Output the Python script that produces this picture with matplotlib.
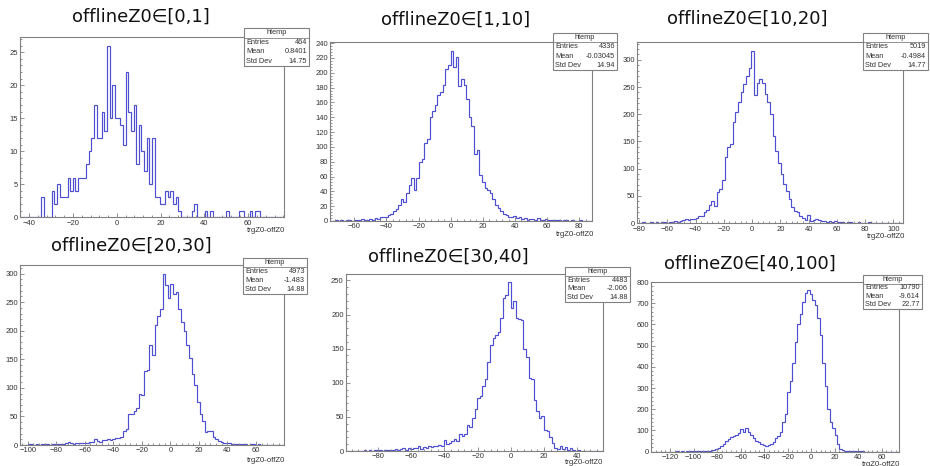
import numpy as np
import matplotlib
matplotlib.use("Agg")
import matplotlib.pyplot as plt
from matplotlib.patches import Rectangle
from matplotlib.lines import Line2D
from matplotlib.ticker import MultipleLocator, AutoMinorLocator

W, H = 930, 466

# ---------------- data ----------------
titles = ["offlineZ0∈[0,1]", "offlineZ0∈[1,10]", "offlineZ0∈[10,20]",
          "offlineZ0∈[20,30]", "offlineZ0∈[30,40]", "offlineZ0∈[40,100]"]

# histogram ranges (100 bins each, ROOT htemp)
hist_ranges = [(-44.2, 76.3), (-75.1, 87.9), (-81.4, 106.8),
               (-105.4, 79.6), (-99.5, 55.8), (-136.2, 74.7)]

counts_0_1 = [0, 0, 0, 0, 0, 0, 0, 0, 3, 0,
              0, 0, 4, 2, 5, 3, 3, 3, 6, 4,
              6, 4, 6, 6, 6, 8, 10, 12, 17, 12,
              12, 16, 13, 26, 15, 20, 15, 15, 14, 11,
              22, 16, 13, 17, 8, 14, 10, 7, 12, 5,
              12, 3, 3, 2, 2, 4, 3, 4, 2, 3,
              1, 0, 0, 0, 0, 1, 2, 0, 0, 0,
              1, 0, 1, 0, 0, 0, 0, 0, 1, 0,
              0, 0, 0, 1, 1, 0, 0, 1, 0, 1,
              1, 0, 0, 0, 0, 0, 0, 0, 0, 0]

counts_1_10 = [0, 0, 1, 0, 1, 0, 1, 2, 0, 1,
               2, 1, 3, 1, 2, 3, 2, 4, 3, 6,
               5, 6, 8, 10, 13, 16, 22, 30, 26, 38,
               48, 58, 42, 58, 80, 84, 105, 110, 140, 148,
               156, 170, 174, 183, 205, 211, 230, 208, 221, 182,
               192, 183, 165, 140, 128, 91, 96, 62, 53, 44,
               42, 38, 30, 22, 17, 13, 9, 8, 6, 5,
               7, 4, 6, 3, 4, 2, 3, 3, 2, 4,
               2, 1, 3, 1, 2, 1, 2, 1, 0, 2,
               1, 0, 1, 0, 0, 1, 0, 0, 0, 0]

counts_10_20 = [0, 0, 1, 0, 0, 1, 0, 1, 0, 2,
                1, 0, 2, 1, 3, 2, 4, 5, 7, 6,
                8, 7, 10, 12, 12, 21, 24, 33, 40, 32,
                57, 62, 79, 122, 140, 145, 186, 204, 222, 241,
                256, 271, 285, 317, 236, 258, 264, 257, 238, 222,
                200, 160, 132, 110, 90, 72, 58, 45, 30, 22,
                20, 13, 10, 5, 14, 4, 6, 8, 5, 4,
                3, 2, 4, 2, 3, 1, 2, 1, 0, 1,
                1, 0, 0, 1, 0, 0, 0, 1, 0, 0,
                0, 0, 0, 0, 0, 0, 0, 0, 0, 0]

counts_20_30 = [0, 0, 0, 1, 1, 0, 2, 0, 1, 1,
                2, 0, 1, 2, 1, 2, 2, 4, 5, 3,
                2, 4, 3, 4, 3, 4, 5, 6, 10, 7,
                6, 9, 8, 10, 9, 10, 13, 12, 14, 25,
                28, 55, 54, 60, 65, 90, 88, 130, 132, 175,
                158, 210, 225, 238, 300, 280, 257, 282, 265, 268,
                238, 215, 200, 175, 152, 125, 105, 75, 55, 42,
                22, 25, 24, 14, 10, 7, 6, 4, 3, 3,
                2, 1, 2, 1, 1, 2, 0, 1, 1, 0,
                1, 0, 0, 0, 0, 0, 0, 0, 0, 0]

counts_30_40 = [0, 0, 0, 0, 0, 0, 0, 1, 0, 1,
                0, 1, 1, 2, 0, 1, 2, 1, 2, 3,
                1, 3, 4, 2, 5, 3, 4, 5, 7, 3,
                6, 5, 7, 6, 8, 7, 9, 8, 16, 10,
                12, 14, 18, 15, 25, 22, 25, 38, 35, 48,
                62, 78, 80, 95, 105, 130, 155, 165, 170, 175,
                195, 224, 228, 247, 210, 220, 195, 193, 192, 150,
                138, 107, 105, 75, 58, 48, 52, 31, 30, 20,
                12, 5, 3, 7, 3, 6, 2, 4, 1, 0,
                1, 0, 0, 0, 0, 0, 0, 0, 0, 0]

counts_40_100 = [0, 0, 0, 0, 0, 0, 0, 0, 0, 0,
                 1, 0, 1, 0, 1, 1, 2, 1, 3, 2,
                 3, 5, 4, 5, 8, 10, 12, 18, 25, 35,
                 50, 60, 70, 75, 80, 90, 105, 95, 113, 95,
                 80, 65, 50, 45, 35, 30, 28, 30, 35, 45,
                 65, 75, 95, 140, 180, 280, 335, 420, 515, 600,
                 650, 705, 750, 762, 745, 715, 690, 630, 550, 420,
                 310, 200, 140, 110, 80, 35, 15, 8, 5, 4,
                 3, 2, 2, 1, 1, 1, 0, 0, 0, 0,
                 0, 0, 0, 0, 0, 0, 0, 0, 0, 0]

all_counts = [counts_0_1, counts_1_10, counts_10_20,
              counts_20_30, counts_30_40, counts_40_100]

stat_entries = ["464", "4336", "5019", "4973", "4483", "10790"]
stat_means = ["0.8401", "-0.03045", "-0.4984", "-1.483", "-2.006", "-9.614"]
stat_stds = ["14.75", "14.94", "14.77", "14.88", "14.88", "22.77"]
x_label = "trgZ0-offZ0"
hist_name = "htemp"

x_major = [20, 20, 20, 20, 20, 20]
y_major = [5, 20, 50, 50, 50, 100]

# ---------------- layout (pixels) ----------------
frames = [(20, 284, 37, 217.3), (330, 592, 42, 221), (637, 903, 42, 223),
          (20, 284, 265, 445), (345.7, 603.3, 274, 451), (651, 899, 282, 451.7)]
title_pos = [(141, 17), (456, 20), (747, 19), (131, 246), (448, 257), (750, 264)]
stat_boxes = [(244, 309, 28, 66), (553, 617, 33, 70), (863, 928, 33, 70),
              (243, 307, 258, 294), (565, 630, 267, 302), (863, 922, 275, 309)]
xlabel_pos = [(285, 230), (594, 234.5), (905, 237), (285, 460), (603, 463), (900, 464)]
xtick_pad = [1.8, 1.2, 2.4, 1.8, 1.8, 1.8]

LINE = "#4e4ed2"
FRAME = "#808080"
TXT = "#333333"

fig = plt.figure(figsize=(W / 100, H / 100), dpi=100)
fig.patch.set_facecolor("white")


def fx(x):
    return x / W


def fy(y):
    return 1 - y / H


for i in range(6):
    x0, x1, y0, y1 = frames[i]
    ax = fig.add_axes([fx(x0), fy(y1), (x1 - x0) / W, (y1 - y0) / H])
    lo, hi = hist_ranges[i]
    c = np.array(all_counts[i], dtype=float)
    edges = np.linspace(lo, hi, len(c) + 1)
    ax.stairs(c, edges, baseline=0, color=LINE, lw=0.85)
    ax.set_xlim(lo, hi)
    ax.set_ylim(0, 1.05 * c.max())
    for s in ax.spines.values():
        s.set_color(FRAME)
        s.set_linewidth(0.8)
    ax.xaxis.set_major_locator(MultipleLocator(x_major[i]))
    ax.xaxis.set_minor_locator(AutoMinorLocator(5))
    ax.yaxis.set_major_locator(MultipleLocator(y_major[i]))
    ax.yaxis.set_minor_locator(AutoMinorLocator(5))
    ax.tick_params(which="both", direction="in", top=False, right=False,
                   colors=FRAME, labelcolor=TXT, labelsize=5.5,
                   width=0.6)
    ax.tick_params(axis="x", pad=xtick_pad[i])
    ax.tick_params(axis="y", pad=1.5)
    ax.tick_params(which="major", length=2.8)
    ax.tick_params(which="minor", length=1.4)
    for lab in ax.get_xticklabels() + ax.get_yticklabels():
        lab.set_family("Liberation Sans")

    # title
    tx, ty = title_pos[i]
    fig.text(fx(tx), fy(ty), titles[i], ha="center", va="center",
             fontsize=13, color="#111111", family="DejaVu Sans")

    # x label
    lx, ly = xlabel_pos[i]
    fig.text(fx(lx), fy(ly), x_label, ha="right", va="center",
             fontsize=5.6, color=TXT, family="Liberation Sans")

    # stats box
    bx0, bx1, by0, by1 = stat_boxes[i]
    fig.add_artist(Rectangle((fx(bx0), fy(by1)), (bx1 - bx0) / W, (by1 - by0) / H,
                             transform=fig.transFigure, facecolor="white",
                             edgecolor=FRAME, lw=0.8, zorder=5))
    rh = (by1 - by0) / 4.0
    fig.add_artist(Line2D([fx(bx0), fx(bx1)], [fy(by0 + rh), fy(by0 + rh)],
                          transform=fig.transFigure, color=FRAME, lw=0.6, zorder=6))
    fig.text(fx((bx0 + bx1) / 2), fy(by0 + rh / 2), hist_name, ha="center",
             va="center", fontsize=5.3, color=TXT, family="Liberation Sans", zorder=7)
    rows = [("Entries", stat_entries[i]), ("Mean", stat_means[i]),
            ("Std Dev", stat_stds[i])]
    for r, (k, v) in enumerate(rows):
        yy = by0 + rh * (r + 1.5)
        fig.text(fx(bx0 + 2), fy(yy), k, ha="left", va="center", fontsize=5.3,
                 color=TXT, family="Liberation Sans", zorder=7)
        fig.text(fx(bx1 - 2), fy(yy), v, ha="right", va="center", fontsize=5.3,
                 color=TXT, family="Liberation Sans", zorder=7)

fig.savefig("out.png", dpi=100, facecolor="white")
